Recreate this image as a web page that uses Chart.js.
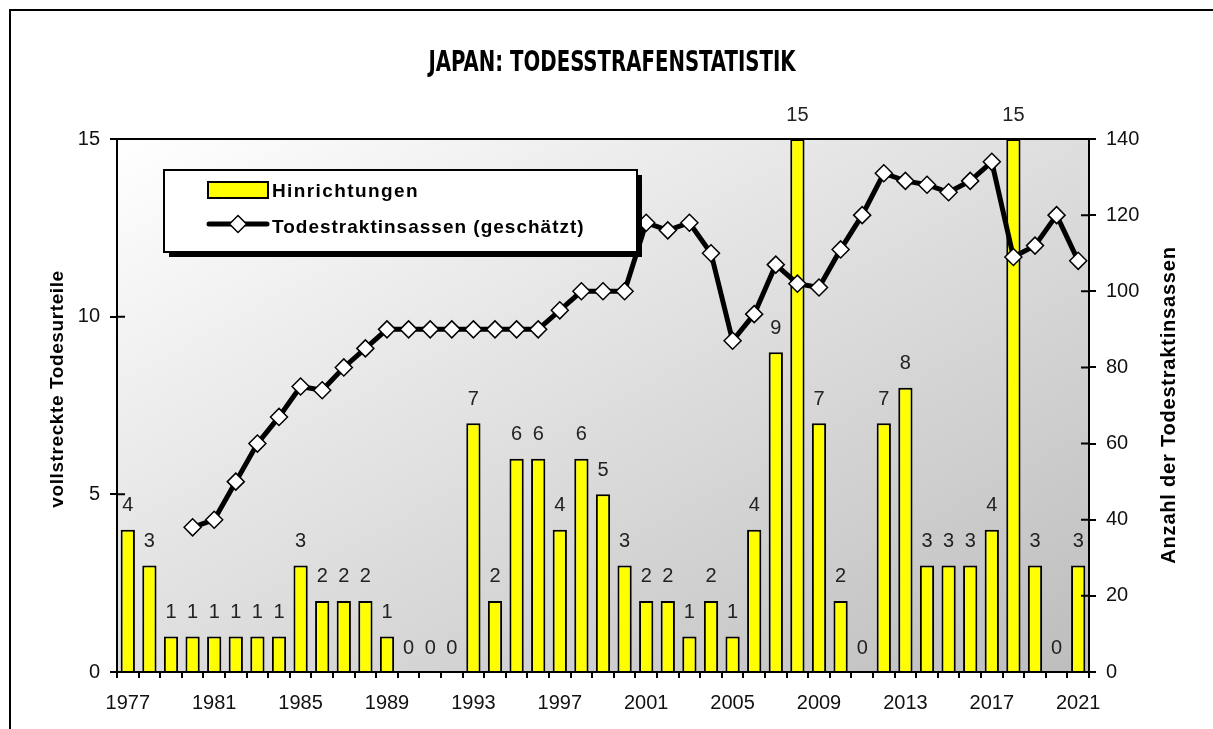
<!DOCTYPE html>
<html><head><meta charset="utf-8">
<script src="https://cdn.jsdelivr.net/npm/chart.js@4.4.1/dist/chart.umd.min.js"></script>
<style>html,body{margin:0;padding:0;background:#fff;}canvas{display:block;}</style>
</head><body>
<canvas id="c" width="1213" height="729"></canvas>
<script>
// ---- data ----
const years = ['1977','1978','1979','1980','1981','1982','1983','1984','1985','1986','1987','1988','1989','1990','1991','1992','1993','1994','1995','1996','1997','1998','1999','2000','2001','2002','2003','2004','2005','2006','2007','2008','2009','2010','2011','2012','2013','2014','2015','2016','2017','2018','2019','2020','2021'];
const executions = [4,3,1,1,1,1,1,1,3,2,2,2,1,0,0,0,7,2,6,6,4,6,5,3,2,2,1,2,1,4,9,15,7,2,0,7,8,3,3,3,4,15,3,0,3];
const deathRow = [null,null,null,38,40,50,60,67,75,74,80,85,90,90,90,90,90,90,90,90,95,100,100,100,118,116,118,110,87,94,107,102,101,111,120,131,129,128,126,129,134,109,112,120,108];
const xTickLabels = ['1977','1981','1985','1989','1993','1997','2001','2005','2009','2013','2017','2021'];
const leftTicks = [0,5,10,15];
const rightTicks = [0,20,40,60,80,100,120,140];
const chartTitle = 'JAPAN: TODESSTRAFENSTATISTIK';
const leftAxisTitle = 'vollstreckte Todesurteile';
const rightAxisTitle = 'Anzahl der Todestraktinsassen';
const seriesNames = ['Hinrichtungen','Todestraktinsassen (geschätzt)'];

const FONT = '"Liberation Sans", Arial, sans-serif';

const decor = {
  id: 'decor',
  beforeDraw(chart) {
    const {ctx, chartArea: a} = chart;
    const W = a.right - a.left, H = a.bottom - a.top;
    const t = 2 * W * H / (W * W + H * H);
    const g = ctx.createLinearGradient(a.left, a.top, a.left + t * H, a.top + t * W);
    g.addColorStop(0, '#ffffff');
    g.addColorStop(1, '#bdbdbd');
    ctx.save();
    ctx.fillStyle = g;
    ctx.fillRect(a.left, a.top, W, H);
    ctx.restore();
  },
  afterDatasetsDraw(chart) {
    const {ctx} = chart;
    const meta = chart.getDatasetMeta(0);
    ctx.save();
    ctx.font = '20px ' + FONT;
    ctx.fillStyle = '#222';
    ctx.textAlign = 'center';
    ctx.textBaseline = 'middle';
    meta.data.forEach((bar, i) => {
      ctx.fillText(String(executions[i]), bar.x, bar.y - 24);
    });
    ctx.restore();
  },
  afterDraw(chart) {
    const {ctx, chartArea: a, scales} = chart;
    ctx.save();
    ctx.strokeStyle = '#000';
    ctx.lineWidth = 2;
    // plot top border
    ctx.beginPath(); ctx.moveTo(a.left, a.top); ctx.lineTo(a.right, a.top); ctx.stroke();
    // inward ticks
    ctx.beginPath();
    leftTicks.forEach(v => { const y = scales.yL.getPixelForValue(v); ctx.moveTo(a.left, y); ctx.lineTo(a.left + 8, y); });
    rightTicks.forEach(v => { const y = scales.yR.getPixelForValue(v); ctx.moveTo(a.right, y); ctx.lineTo(a.right - 8, y); });
    ctx.stroke();
    // outer frame
    ctx.beginPath(); ctx.moveTo(10, 729); ctx.lineTo(10, 10); ctx.lineTo(1213, 10); ctx.stroke();

    // title
    ctx.fillStyle = '#000';
    ctx.font = 'bold 28px "Liberation Sans Narrow", "DejaVu Sans Condensed", "Liberation Sans", sans-serif';
    ctx.textAlign = 'center';
    ctx.textBaseline = 'alphabetic';
    const tw = ctx.measureText(chartTitle).width;
    ctx.save();
    ctx.translate(612, 71);
    ctx.scale(367 / tw, 1);
    ctx.fillText(chartTitle, 0, 0);
    ctx.restore();

    // axis titles
    ctx.font = 'bold 19px ' + FONT;
    ctx.letterSpacing = '0.6px';
    ctx.save(); ctx.translate(63, 389); ctx.rotate(-Math.PI / 2); ctx.fillText(leftAxisTitle, 0, 0); ctx.restore();
    ctx.font = 'bold 20px ' + FONT;
    ctx.letterSpacing = '0.8px';
    ctx.save(); ctx.translate(1175, 405); ctx.rotate(-Math.PI / 2); ctx.fillText(rightAxisTitle, 0, 0); ctx.restore();

    // legend
    const bx = 164, by = 170, bw = 473, bh = 82;
    ctx.fillStyle = '#000';
    ctx.fillRect(bx + 5, by + 5, bw, bh);
    ctx.fillStyle = '#fff';
    ctx.fillRect(bx, by, bw, bh);
    ctx.strokeRect(bx, by, bw, bh);
    ctx.fillStyle = '#ffff00';
    ctx.fillRect(208, 182, 60, 16);
    ctx.strokeRect(208, 182, 60, 16);
    ctx.lineWidth = 5; ctx.lineCap = 'round';
    ctx.beginPath(); ctx.moveTo(209, 224); ctx.lineTo(267, 224); ctx.stroke();
    ctx.lineCap = 'butt';
    ctx.lineWidth = 1.5;
    ctx.fillStyle = '#fff';
    ctx.beginPath(); ctx.moveTo(238, 215.5); ctx.lineTo(246.5, 224); ctx.lineTo(238, 232.5); ctx.lineTo(229.5, 224); ctx.closePath();
    ctx.fill(); ctx.stroke();
    ctx.fillStyle = '#000';
    ctx.textAlign = 'left';
    ctx.font = 'bold 19px ' + FONT;
    ctx.letterSpacing = '1.4px';
    ctx.fillText(chart.data.datasets[0].label, 272, 197);
    ctx.letterSpacing = '1px';
    ctx.fillText(chart.data.datasets[1].label, 272, 233);
    ctx.letterSpacing = '0px';
    ctx.restore();
  }
};

const tickFont = {family: FONT, size: 20};
const chart = new Chart(document.getElementById('c'), {
  data: {
    labels: years,
    datasets: [
      {type: 'bar', label: seriesNames[0], data: executions, yAxisID: 'yL',
       backgroundColor: '#ffff00', borderColor: '#000', borderWidth: 2,
       barPercentage: 0.66, categoryPercentage: 1, order: 2},
      {type: 'line', label: seriesNames[1], data: deathRow, yAxisID: 'yR',
       borderColor: '#000', borderWidth: 5, tension: 0,
       pointStyle: 'rectRot', pointRadius: 8.5, pointBackgroundColor: '#fff',
       pointBorderColor: '#000', pointBorderWidth: 1.5, order: 1}
    ]
  },
  options: {
    responsive: false, animation: false, devicePixelRatio: 1,
    layout: {padding: {top: 139, left: 0, right: 0, bottom: 0}},
    plugins: {legend: {display: false}, title: {display: false}, tooltip: {enabled: false}},
    scales: {
      x: {
        type: 'category', offset: true,
        grid: {offset: true, drawOnChartArea: false, drawTicks: true, tickLength: 6, color: '#000', lineWidth: 2},
        border: {color: '#000', width: 2},
        ticks: {autoSkip: false, maxRotation: 0, minRotation: 0, padding: 13, color: '#111', font: tickFont,
          callback: function (v) { const l = this.getLabelForValue(v); return xTickLabels.includes(l) ? l : ''; }},
        afterFit: s => { s.height = 57; }
      },
      yL: {
        position: 'left', min: 0, max: 15,
        afterBuildTicks: s => { s.ticks = leftTicks.map(v => ({value: v})); },
        grid: {drawOnChartArea: false, drawTicks: true, tickLength: 7, color: '#000', lineWidth: 2},
        border: {color: '#000', width: 2},
        ticks: {padding: 10, color: '#111', font: tickFont},
        afterFit: s => { s.width = 117; }
      },
      yR: {
        position: 'right', min: 0, max: 140,
        afterBuildTicks: s => { s.ticks = rightTicks.map(v => ({value: v})); },
        grid: {drawOnChartArea: false, drawTicks: true, tickLength: 7, color: '#000', lineWidth: 2},
        border: {color: '#000', width: 2},
        ticks: {padding: 10, color: '#111', font: tickFont},
        afterFit: s => { s.width = 124; }
      }
    }
  },
  plugins: [decor]
});
</script>
</body></html>
